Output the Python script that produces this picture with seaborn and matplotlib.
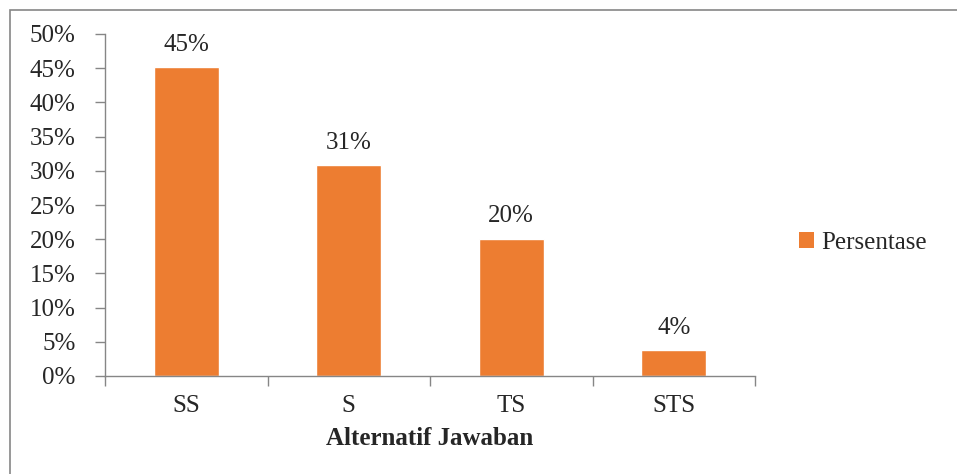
import numpy as np
import pandas as pd
import matplotlib
matplotlib.use("Agg")
import matplotlib.pyplot as plt
from matplotlib.patches import Patch, Rectangle
from matplotlib.ticker import FixedLocator, PercentFormatter
import seaborn as sns

categories = ['SS', 'S', 'TS', 'STS']
persentase = [0.452, 0.309, 0.201, 0.038]
series_name = 'Persentase'
x_title = 'Alternatif Jawaban'
y_ticks = np.arange(0, 0.51, 0.05)

sns.set_style('white')
plt.rcParams['font.family'] = ['Liberation Serif', 'DejaVu Serif']

bar_color = '#ED7D31'
axis_color = '#868686'
fs = 18

df = pd.DataFrame({'kategori': categories, 'nilai': persentase})

fig = plt.figure(figsize=(9.57, 4.74), dpi=100)
W, H = 957, 474
ax = fig.add_axes([105 / W, (H - 376) / H, (755 - 105) / W, (376 - 34) / H])

sns.barplot(data=df, x='kategori', y='nilai', color=bar_color, width=0.4,
            saturation=1, ax=ax)

labels = [f'{v * 100:.0f}%' for v in persentase]
ax.bar_label(ax.containers[0], labels=labels, padding=8, fontsize=fs)

ax.set_xlim(-0.5, len(categories) - 0.5)
ax.set_ylim(0, 0.5)
ax.set_yticks(y_ticks)
ax.yaxis.set_major_formatter(PercentFormatter(1.0, decimals=0))
ax.tick_params(axis='y', direction='out', length=7, width=1, color=axis_color,
               pad=14, labelsize=fs, left=True)
ax.xaxis.set_minor_locator(FixedLocator(np.arange(-0.5, len(categories), 1.0)))
ax.tick_params(axis='x', which='major', length=0, pad=14, labelsize=fs)
ax.tick_params(axis='x', which='minor', direction='out', length=7, width=1,
               color=axis_color, bottom=True)

for side in ['top', 'right']:
    ax.spines[side].set_visible(False)
for side in ['left', 'bottom']:
    ax.spines[side].set_color(axis_color)
    ax.spines[side].set_linewidth(1)

ax.set_xlabel(x_title, fontsize=fs, fontweight='bold', labelpad=7)
ax.set_ylabel('')

handle = Patch(facecolor=bar_color, edgecolor='none')
fig.legend([handle], [series_name], loc='center left',
           bbox_to_anchor=(776 / W, (H - 243) / H), frameon=False,
           fontsize=fs, handlelength=0.6, handleheight=0.6, handletextpad=0.3)

# chart frame (only top and left edges visible in the crop)
fig.patches.append(Rectangle((10 / W, -0.2), 1.2, 1.2 - 10 / H,
                             transform=fig.transFigure, fill=False,
                             edgecolor=axis_color, linewidth=1.2))

fig.savefig('out.png', dpi=100)
